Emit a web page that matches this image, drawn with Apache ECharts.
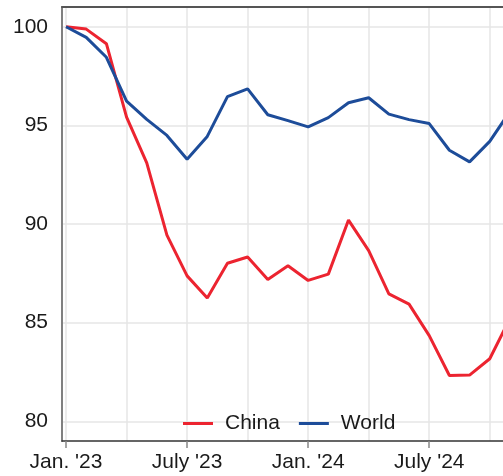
<!DOCTYPE html>
<html>
<head>
<meta charset="utf-8">
<script src="https://cdn.jsdelivr.net/npm/echarts@6/dist/echarts.min.js"></script>
<style>
html,body{margin:0;padding:0;background:#fff;}
#chart{width:503px;height:476px;}
</style>
</head>
<body>
<div id="chart"></div>
<script>
// Months since Jan. 2023 (0 = Jan. '23 ... 22 = Nov. '24)
var months = ['Jan 23','Feb 23','Mar 23','Apr 23','May 23','Jun 23','Jul 23','Aug 23','Sep 23','Oct 23','Nov 23','Dec 23',
              'Jan 24','Feb 24','Mar 24','Apr 24','May 24','Jun 24','Jul 24','Aug 24','Sep 24','Oct 24','Nov 24'];
var china = [100, 99.88, 99.14, 95.42, 93.1, 89.44, 87.37, 86.25, 88.01, 88.33, 87.19, 87.88,
             87.14, 87.46, 90.2, 88.65, 86.46, 85.94, 84.34, 82.32, 82.34, 83.17, 85.2];
var world = [100, 99.46, 98.45, 96.23, 95.3, 94.49, 93.28, 94.44, 96.46, 96.85, 95.54, 95.24,
             94.92, 95.39, 96.15, 96.4, 95.57, 95.29, 95.09, 93.74, 93.15, 94.19, 95.7];
var xTickLabels = {0: "Jan. '23", 6: "July '23", 12: "Jan. '24", 18: "July '24"};
var xLabelPositions = [0, 6, 12, 18];
var xGridPositions = [0, 3, 6, 9, 12, 15, 18, 21];
var yTicks = [80, 85, 90, 95, 100];

function pairs(arr){ return arr.map(function(v,i){ return [i, v]; }); }

var chart = echarts.init(document.getElementById('chart'), null, {renderer:'canvas'});
var font = 'Liberation Sans, Arial, sans-serif';
chart.setOption({
  animation: false,
  backgroundColor: '#ffffff',
  grid: {left: 62, top: 7, width: 456, height: 434, containLabel: false, outerBoundsMode: 'none'},
  legend: {
    left: 178, top: 408,
    icon: 'rect', itemWidth: 30, itemHeight: 3, itemGap: 19,
    textStyle: {fontFamily: font, fontSize: 21, color: '#1a1a1a', padding: [0,0,0,7]},
    data: ['China', 'World']
  },
  xAxis: [
    {
      type: 'value', min: -0.2, max: 22.4, position: 'bottom',
      axisLine: {show: true, lineStyle: {color: '#333333', width: 1.5}},
      axisTick: {show: true, length: 7, lineStyle: {color: '#888888', width: 1.5}, customValues: xLabelPositions},
      axisLabel: {show: true, customValues: xLabelPositions, margin: 11,
        fontFamily: font, fontSize: 21, color: '#1a1a1a',
        formatter: function(v){ return xTickLabels[Math.round(v)] || ''; }},
      splitLine: {show: false}
    },
    {
      type: 'value', min: -0.2, max: 22.4, position: 'top',
      axisLine: {show: true, onZero: false, lineStyle: {color: '#555555', width: 2}},
      axisTick: {show: false, customValues: xGridPositions},
      axisLabel: {show: false, customValues: xGridPositions},
      splitLine: {show: true, lineStyle: {color: '#e6e6e6', width: 1.5}}
    }
  ],
  yAxis: {
    type: 'value', min: 79, max: 101,
    axisLine: {show: true, onZero: false, lineStyle: {color: '#808080', width: 2}},
    axisTick: {show: false, customValues: yTicks},
    axisLabel: {customValues: yTicks, margin: 14, fontFamily: font, fontSize: 21, color: '#1a1a1a'},
    splitLine: {show: true, lineStyle: {color: '#e6e6e6', width: 1.5}}
  },
  series: [
    {name: 'China', type: 'line', data: pairs(china), showSymbol: false, symbol: 'none',
     lineStyle: {color: '#ec2430', width: 3}, itemStyle: {color: '#ec2430'}},
    {name: 'World', type: 'line', data: pairs(world), showSymbol: false, symbol: 'none',
     lineStyle: {color: '#1d4c99', width: 3}, itemStyle: {color: '#1d4c99'}}
  ]
});
</script>
</body>
</html>
